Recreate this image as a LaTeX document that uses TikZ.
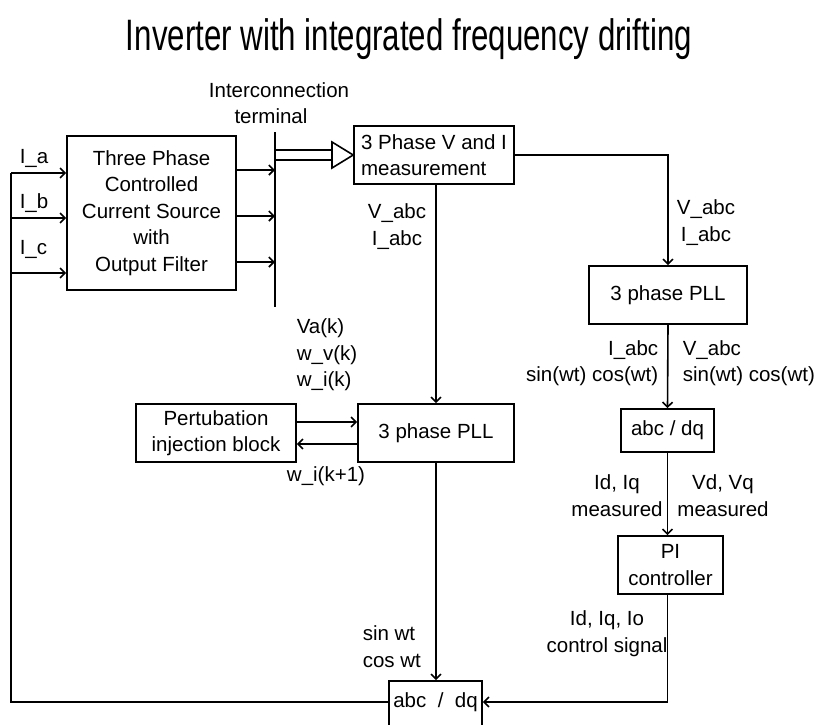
\documentclass[tikz,border=0pt]{standalone}
\usepackage{fontspec}
\setmainfont{Liberation Sans}
\newfontfamily\titlefont[FakeStretch=0.71]{Liberation Sans}
\usetikzlibrary{arrows.meta}
\begin{document}
\begin{tikzpicture}[x=1pt,y=-1pt,line width=1.6pt,
  box/.style={draw,rectangle,inner sep=0pt,font=\fontsize{20.5}{26.5}\selectfont,align=center},
  lbl/.style={inner sep=0pt,font=\fontsize{20.5}{26.5}\selectfont},
  arr/.style={-{Straight Barb[length=5pt,width=10pt]}}]
\useasboundingbox (0,0) rectangle (819,724);
\clip (0,0) rectangle (819,724);

% title
\node[inner sep=0pt,anchor=base,font=\titlefont\fontsize{44}{48}\selectfont] (title) at (409,50) {Inverter with integrated frequency drifting};

% boxes
\node[box,minimum width=169pt,minimum height=154pt] (src) at (151.5,213) {Three Phase\\Controlled\\Current Source\\with\\Output Filter};
\node[box,minimum width=160pt,minimum height=58pt,align=left] (meas) at (434,155) {3 Phase V and I\\measurement};
\node[box,minimum width=158pt,minimum height=58pt] (pllR) at (668,295) {3 phase PLL};
\node[box,minimum width=93pt,minimum height=43pt] (dqR) at (667.5,430.5) {abc / dq};
\node[box,minimum width=105pt,minimum height=58pt] (pi) at (670.5,565) {PI\\controller};
\node[box,minimum width=156pt,minimum height=58pt] (pllM) at (436,433) {3 phase PLL};
\node[box,minimum width=160pt,minimum height=58pt] (pert) at (216,433) {Pertubation\\injection block};
\node[draw,rectangle,minimum width=93pt,minimum height=60pt] (dqB) at (435.5,711) {};
\node[lbl] (dqBt) at (435.5,702) {abc\ \ /\ \ dq};

% terminal
\coordinate (tTop) at (275,132);
\coordinate (tBot) at (275,307);
\draw (tTop) -- (tBot);
\foreach \y in {170,216,262}
  \draw[arr] (src.east |- 0,\y) -- (tTop |- 0,\y);

% hollow double arrow to measurement
\coordinate (dTip) at (meas.west);
\draw (275,150) -- (332,150);
\draw (275,160) -- (332,160);
\draw[fill=white] (332,142) -- (dTip) -- (332,168) -- cycle;

% inputs and feedback
\coordinate (fbC) at (11,702);
\coordinate (fbT) at (11,173);
\draw (dqBt -| dqB.west) -- (fbC) -- (fbT);
\draw[arr] (fbT) -- (fbT -| src.west);
\draw[arr] (11,218) -- (src.west |- 0,218);
\draw[arr] (11,273) -- (src.west |- 0,273);

% measurement to PLLs
\draw[arr] (meas.east) -- (meas.east -| pllR.north) -- (pllR.north);
\draw[arr] (pllM.north |- meas.south) -- (pllM.north);
\draw[arr] (pert.east |- 0,422) -- (pllM.west |- 0,422);
\draw[arr] (pllM.west |- 0,444) -- (pert.east |- 0,444);
\draw[arr] (pllM.south) -- (pllM.south |- dqB.north);

% right chain
\draw[arr] (pllR.south) -- (dqR.north);
\draw[arr] (dqR.south) -- (dqR.south |- pi.north);
\draw[arr] (dqR.south |- pi.south) -- (dqR.south |- dqBt) -- (dqBt -| dqB.east);

% labels
\node[lbl,anchor=west] (la) at (19,158) {I\_a};
\node[lbl,anchor=west] (lb) at (19,203) {I\_b};
\node[lbl,anchor=west] (lc) at (19,249) {I\_c};
\node[lbl] (ic1) at (279,90) {Interconnection};
\node[lbl] (ic2) at (271,116) {terminal};
\node[lbl,align=center] (vm) at (397,226.5) {V\_abc\\I\_abc};
\node[lbl,align=center] (vr) at (706,222.5) {V\_abc\\I\_abc};
\node[lbl,align=right,anchor=east] (ir) at (659,363) {I\_abc\\sin(wt) cos(wt)};
\node[lbl,align=left,anchor=west] (vr2) at (682,363) {V\_abc\\sin(wt) cos(wt)};
\node[lbl,align=left,anchor=west] (vak) at (296,355) {Va(k)\\w\_v(k)\\w\_i(k)};
\node[lbl] (wk1) at (326,476) {w\_i(k+1)};
\node[lbl,align=center] (idm) at (617,495.5) {Id, Iq\\measured};
\node[lbl,align=center] (vdm) at (723,495.5) {Vd, Vq\\measured};
\node[lbl,align=center] (ctl) at (607,633.5) {Id, Iq, Io\\control signal};
\node[lbl,align=left,anchor=west] (sc) at (362,646.5) {sin wt\\cos wt};
\end{tikzpicture}
\end{document}
